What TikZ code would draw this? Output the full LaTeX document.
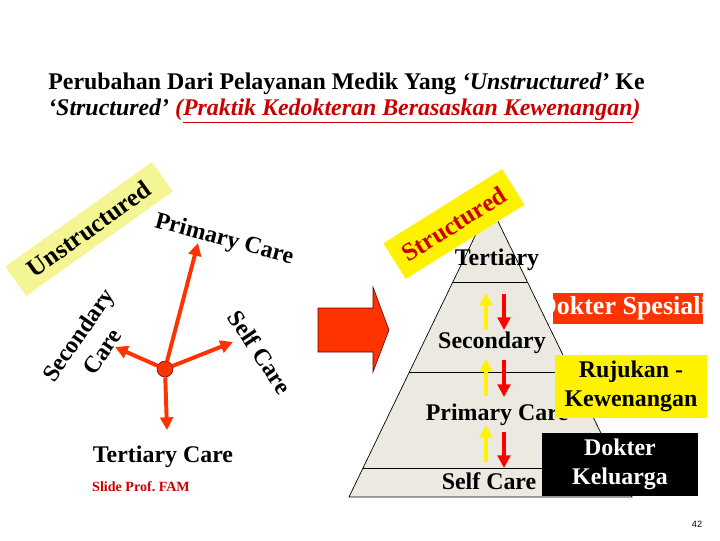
\documentclass[tikz,border=0pt]{standalone}
\usepackage{fontspec}
\setmainfont{Liberation Serif}
\setsansfont{Liberation Sans}
\usetikzlibrary{arrows.meta,positioning,calc}

\definecolor{slidered}{RGB}{255,51,0}
\definecolor{darkred}{RGB}{204,0,0}
\definecolor{paleyellow}{RGB}{245,245,150}
\definecolor{pyrgray}{RGB}{236,233,224}

\tikzset{
  label17/.style={font=\fontsize{17}{20.5}\selectfont\bfseries},
  spoke/.style={draw=slidered, line width=2.8pt, -{Triangle[length=9pt,width=9pt]}},
  updown/.style={line width=3.2pt, -{Triangle[length=9pt,width=9pt]}},
}

\begin{document}
\begin{tikzpicture}[x=0.025cm,y=-0.025cm]
    \useasboundingbox (0,0) rectangle (720,540);
    \fill[white] (0,0) rectangle (720,540);
    % Title
    \node[anchor=base west, inner sep=0, label17] (title1) at (48,89)
        {Perubahan Dari Pelayanan Medik Yang \textit{‘Unstructured’} Ke};
    \node[anchor=base west, inner sep=0, label17] (title2) at (48,115)
        {\textit{‘Structured’ \textcolor{darkred}{(\underline{Praktik Kedokteran Berasaskan Kewenangan})}}};
    % Unstructured star
    \node[rotate=35.5, fill=paleyellow, minimum width=4.5cm, minimum height=0.9cm,
          font=\fontsize{18}{20}\selectfont\bfseries] (unstr) at (89,229) {Unstructured};
    \node[label17, rotate=-15] (primL) at (224,240) {Primary Care};
    \node[label17, rotate=55, align=center] (secL) at (90,343) {Secondary\\Care};
    \node[label17, rotate=-56] (selfL) at (260,352) {Self Care};
    \node[label17] (tertL) at (163,457) {Tertiary Care};
    \node[text=darkred, font=\fontsize{10}{12}\selectfont\bfseries] (credit) at (141,487) {Slide Prof.\ FAM};
    \node[circle, fill=slidered, draw=black!60!red, minimum size=0.4cm, inner sep=0] (hub) at (165,369) {};
    \coordinate (primTip) at (198,243);
    \coordinate (secTip) at (115,347);
    \coordinate (selfTip) at (233,342);
    \coordinate (tertTip) at (167,430);
    \foreach \tip in {primTip,secTip,selfTip,tertTip} {
        \draw[spoke] (hub) -- (\tip);
    }
    % Big arrow
    \draw[fill=slidered, draw=black!60!red] (318,308) -- (373,308) -- (373,287) -- (389,330)
        -- (373,372) -- (373,352) -- (318,352) -- cycle;
    % Pyramid
    \coordinate (apex) at (490,205);
    \coordinate (bl) at (349,497);
    \coordinate (br) at (632,497);
    \draw[fill=pyrgray, line width=0.5pt] (apex) -- (br) -- (bl) -- cycle;
    \foreach \t in {0.264,0.572,0.901} {
        \draw[line width=0.5pt] ($(apex)!\t!(bl)$) -- ($(apex)!\t!(br)$);
    }
    \node[rotate=32, fill=yellow, minimum width=3.5cm, minimum height=1.05cm, text=darkred,
          font=\fontsize{18}{20}\selectfont\bfseries] (str) at (454,224) {Structured};
    \node[label17] (tert) at (497,260) {Tertiary};
    \node[label17] (sec) at (492,343) {Secondary};
    \node[label17] (prim) at (497,415) {Primary Care};
    \node[label17] (self) at (489,481) {Self Care};
    % Referral arrows
    \foreach \ya/\yb/\yc/\yd in {293/330/294/330, 359/396/360/397, 425/462/432/468} {
        \draw[updown, draw=yellow] (486,\yb) -- (486,\ya);
        \draw[updown, draw=red] (504,\yc) -- (504,\yd);
    }
    % Side boxes
    \node[fill=slidered, minimum width=3.75cm, minimum height=0.78cm, inner sep=0] (spes) at (628,308.5) {};
    \begin{scope}
        \clip (spes.south west) rectangle (spes.north east);
        \node[font=\fontsize{18.5}{20}\selectfont\bfseries, text=white] (spesText) at (spes.center) {Dokter Spesialis};
    \end{scope}
    \node[fill=yellow, minimum width=3.8cm, minimum height=1.575cm, align=center, label17] (ruj) at (631,386.5)
        {Rujukan -\\Kewenangan};
    \node[fill=black, text=white, minimum width=3.9cm, minimum height=1.575cm, align=center, label17] (kel) at (620,464.5)
        {Dokter\\Keluarga};
    \node[font=\sffamily\fontsize{6.5}{8}\selectfont] (pagenum) at (697,524) {42};
\end{tikzpicture}
\end{document}
